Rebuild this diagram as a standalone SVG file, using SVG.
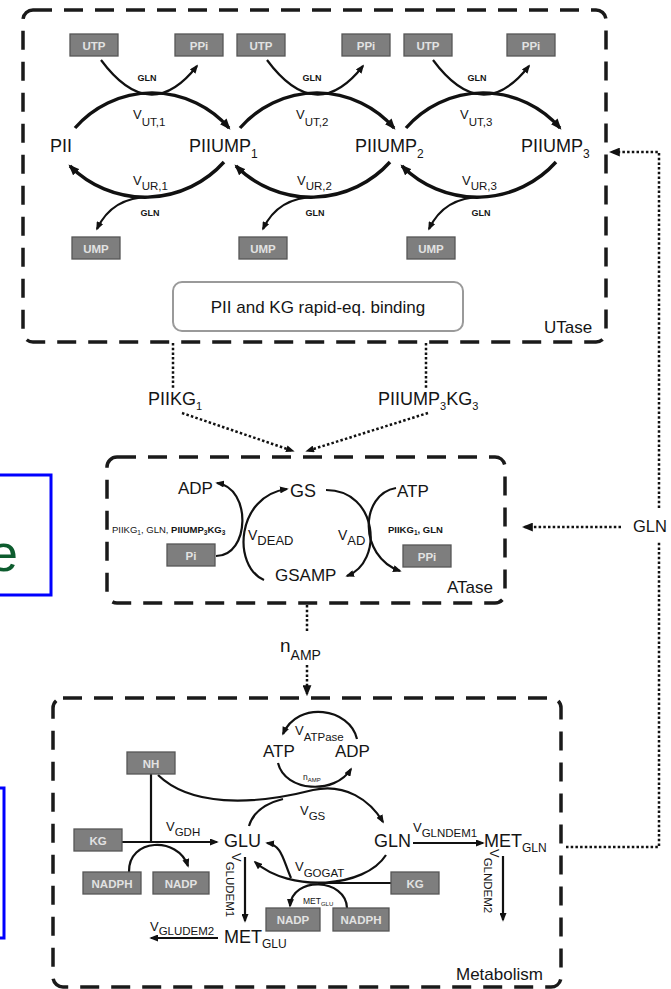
<svg xmlns="http://www.w3.org/2000/svg" width="671" height="989" viewBox="0 0 671 989">
<defs>
<style>
text{font-family:"Liberation Sans",Arial,sans-serif;fill:#151515}
.box rect{fill:#7e7e7e;stroke:#565656;stroke-width:1.3}
.box text{fill:#e2e2e2;font-weight:bold;font-size:11.5px;text-anchor:middle}
.dash{fill:none;stroke:#1a1a1a;stroke-width:3.5;stroke-dasharray:19 12}
.arc{fill:none;stroke:#111;stroke-width:3.4}
.thin{fill:none;stroke:#111;stroke-width:2.2}
.dot{fill:none;stroke:#111;stroke-width:2.5;stroke-dasharray:2.5 2.2}
.sp{font-size:18px}
.v{font-size:13px}
.sub{font-size:11.5px}
.g{font-size:9px;font-weight:bold}
.cl{font-size:17px}
</style>
<marker id="a" viewBox="0 0 10 8" refX="8" refY="4" markerWidth="11" markerHeight="9" orient="auto" markerUnits="userSpaceOnUse"><path d="M0 0L10 4L0 8z" fill="#111"/></marker>
<marker id="s" viewBox="0 0 10 8" refX="8" refY="4" markerWidth="9" markerHeight="7" orient="auto" markerUnits="userSpaceOnUse"><path d="M0 0L10 4L0 8z" fill="#111"/></marker>
</defs>
<rect width="671" height="989" fill="#fff"/>
<g id="blue1"><rect x="-5" y="475" width="56" height="120" fill="none" stroke="#0000ff" stroke-width="3"/><text x="-11" y="571" style="font-size:52px;fill:#0d5c2e">e</text></g>
<g id="blue2"><rect x="-5" y="788" width="9" height="150" fill="none" stroke="#0000ff" stroke-width="3"/></g>
<g id="utase"><rect class="dash" x="23" y="10" width="583" height="332" rx="10"/><text class="cl" x="544" y="333">UTase</text></g>
<g id="atase"><rect class="dash" x="107" y="457" width="398" height="146" rx="10"/><text class="cl" x="447" y="593">ATase</text></g>
<g id="metabolism"><rect class="dash" x="53" y="698" width="508" height="289" rx="10"/><text class="cl" x="456" y="980">Metabolism</text></g>
<g id="connectors">
<path class="arc" d="M75 128A102 102 0 0 1 229 128" marker-end="url(#a)"/>
<path class="arc" d="M240 128A102 102 0 0 1 394 128" marker-end="url(#a)"/>
<path class="arc" d="M406 128A102 102 0 0 1 560 128" marker-end="url(#a)"/>
<path class="thin" d="M101 60Q150 126 197 66" marker-end="url(#s)"/>
<path class="thin" d="M267 60Q316 126 363 66" marker-end="url(#s)"/>
<path class="thin" d="M433 60Q482 126 529 66" marker-end="url(#s)"/>
<path class="arc" d="M224 162A106 106 0 0 1 70 166" marker-end="url(#a)"/>
<path class="arc" d="M390 162A106 106 0 0 1 236 166" marker-end="url(#a)"/>
<path class="arc" d="M556 162A106 106 0 0 1 402 166" marker-end="url(#a)"/>
<path class="thin" d="M150 197Q112 197 97 229" marker-end="url(#s)"/>
<path class="thin" d="M316 197Q278 197 263 229" marker-end="url(#s)"/>
<path class="thin" d="M482 197Q444 197 429 229" marker-end="url(#s)"/>
<path class="dot" d="M173 343V388"/>
<path class="dot" d="M426 343V388"/>
<path class="dot" d="M182 413L293 451" marker-end="url(#s)"/>
<path class="dot" d="M428 413L307 451" marker-end="url(#s)"/>
<path class="dot" d="M659 508V152H611" marker-end="url(#a)"/>
<path class="dot" d="M621 527H524" marker-end="url(#a)"/>
<path class="dot" d="M566 847H659V542"/>
<path class="dot" d="M307 605V632"/>
<path class="dot" d="M307 665V694" marker-end="url(#a)"/>
<path class="thin" d="M216 556C250 556 252 488 217 483" marker-end="url(#s)"/>
<path class="thin" d="M264 580C232 566 236 496 287 489" marker-end="url(#s)"/>
<path class="thin" d="M326 490C378 490 384 562 347 576" marker-end="url(#s)"/>
<path class="thin" d="M396 488C360 494 358 556 400 571" marker-end="url(#s)"/>
<path class="thin" d="M357 739C350 708 298 700 283 734" marker-end="url(#s)"/>
<path class="thin" d="M278 763C285 792 335 795 351 769" marker-end="url(#s)"/>
<path class="thin" d="M158 775C190 806 250 806 313 790C345 783 370 800 383 822" marker-end="url(#s)"/>
<path class="thin" d="M249 826Q255 806 283 799"/>
<path class="thin" d="M122 842H217" marker-end="url(#s)"/>
<path class="thin" d="M151 774V842"/>
<path class="thin" d="M129 872C128 838 178 836 188 866" marker-end="url(#s)"/>
<path class="thin" d="M413 843H483" marker-end="url(#s)"/>
<path class="thin" d="M503 856V920" marker-end="url(#s)"/>
<path class="thin" d="M245 857V921" marker-end="url(#s)"/>
<path class="thin" d="M218 938H151" marker-end="url(#s)"/>
<path class="thin" d="M386 855C365 888 290 893 255 862" marker-end="url(#s)"/>
<path class="thin" d="M391 883H318"/>
<path class="thin" d="M291 878C283 860 282 845 267 843" marker-end="url(#s)"/>
<path class="thin" d="M347 908C346 878 292 876 290 906" marker-end="url(#s)"/>
</g>
<g id="labels">
<text class="g" x="147" y="81" text-anchor="middle">GLN</text>
<text class="g" x="312" y="81" text-anchor="middle">GLN</text>
<text class="g" x="477" y="81" text-anchor="middle">GLN</text>
<text x="133" y="119"><tspan class="v">V</tspan><tspan class="sub" dy="7">UT,1</tspan></text>
<text x="296" y="119"><tspan class="v">V</tspan><tspan class="sub" dy="7">UT,2</tspan></text>
<text x="460" y="119"><tspan class="v">V</tspan><tspan class="sub" dy="7">UT,3</tspan></text>
<text x="133" y="185"><tspan class="v">V</tspan><tspan class="sub" dy="5">UR,1</tspan></text>
<text x="297" y="185"><tspan class="v">V</tspan><tspan class="sub" dy="5">UR,2</tspan></text>
<text x="462" y="185"><tspan class="v">V</tspan><tspan class="sub" dy="5">UR,3</tspan></text>
<text class="g" x="150" y="216" text-anchor="middle">GLN</text>
<text class="g" x="315" y="216" text-anchor="middle">GLN</text>
<text class="g" x="481" y="216" text-anchor="middle">GLN</text>
<text x="148" y="405" class="sp">PIIKG<tspan font-size="11" dy="5">1</tspan></text>
<text x="378" y="405" class="sp">PIIUMP<tspan font-size="11" dy="5">3</tspan><tspan dy="-5">KG</tspan><tspan font-size="11" dy="5">3</tspan></text>
<text x="248" y="540"><tspan font-size="14px">V</tspan><tspan font-size="13px" dy="5">DEAD</tspan></text>
<text x="338" y="540"><tspan font-size="14px">V</tspan><tspan font-size="13px" dy="5">AD</tspan></text>
<text x="112" y="533" font-size="9.5">PIIKG<tspan font-size="6.5" dy="2">1</tspan><tspan dy="-2">, GLN, </tspan><tspan font-weight="bold">PIIUMP<tspan font-size="6.5" dy="2">3</tspan><tspan dy="-2">KG</tspan><tspan font-size="6.5" dy="2">3</tspan></tspan></text>
<text x="388" y="533" font-size="9.5" font-weight="bold">PIIKG<tspan font-size="6.5" dy="2">1</tspan><tspan dy="-2">, GLN</tspan></text>
<text x="280" y="652"><tspan font-size="19px">n</tspan><tspan font-size="14px" dy="8">AMP</tspan></text>
<text x="295" y="735"><tspan class="v">V</tspan><tspan class="sub" dy="6">ATPase</tspan></text>
<text x="303" y="780" font-size="8.5">n<tspan font-size="6" dy="2">AMP</tspan></text>
<text x="300" y="815"><tspan class="v">V</tspan><tspan class="sub" dy="5">GS</tspan></text>
<text x="166" y="831"><tspan class="v">V</tspan><tspan class="sub" dy="5">GDH</tspan></text>
<text x="413" y="832"><tspan class="v">V</tspan><tspan class="sub" dy="5">GLNDEM1</tspan></text>
<text transform="translate(490 849) rotate(90)"><tspan class="v">V</tspan><tspan class="sub" dy="6">GLNDEM2</tspan></text>
<text transform="translate(232 853) rotate(90)"><tspan class="v">V</tspan><tspan class="sub" dy="6">GLUDEM1</tspan></text>
<text x="150" y="931"><tspan class="v">V</tspan><tspan class="sub" dy="4">GLUDEM2</tspan></text>
<text x="295" y="871"><tspan class="v">V</tspan><tspan class="sub" dy="6">GOGAT</tspan></text>
<text x="303" y="904" font-size="8.5">MET<tspan font-size="6" dy="2">GLU</tspan></text>
</g>
<g id="PII"><text class="sp" x="50" y="152">PII</text></g>
<g id="PIIUMP1"><text class="sp" x="189" y="152">PIIUMP<tspan font-size="12" dy="6">1</tspan></text></g>
<g id="PIIUMP2"><text class="sp" x="355" y="152">PIIUMP<tspan font-size="12" dy="6">2</tspan></text></g>
<g id="PIIUMP3"><text class="sp" x="521" y="152">PIIUMP<tspan font-size="12" dy="6">3</tspan></text></g>
<g id="UTP1" class="box"><rect x="70" y="34" width="48" height="22"/><text x="94" y="49.5">UTP</text></g>
<g id="PPi1" class="box"><rect x="175" y="34" width="48" height="22"/><text x="199" y="49.5">PPi</text></g>
<g id="UTP2" class="box"><rect x="237" y="34" width="48" height="22"/><text x="261" y="49.5">UTP</text></g>
<g id="PPi2" class="box"><rect x="342" y="34" width="48" height="22"/><text x="366" y="49.5">PPi</text></g>
<g id="UTP3" class="box"><rect x="404" y="34" width="48" height="22"/><text x="428" y="49.5">UTP</text></g>
<g id="PPi3" class="box"><rect x="507" y="34" width="48" height="22"/><text x="531" y="49.5">PPi</text></g>
<g id="UMP1" class="box"><rect x="72" y="237" width="48" height="22"/><text x="96" y="252.5">UMP</text></g>
<g id="UMP2" class="box"><rect x="239" y="237" width="48" height="22"/><text x="263" y="252.5">UMP</text></g>
<g id="UMP3" class="box"><rect x="407" y="237" width="48" height="22"/><text x="431" y="252.5">UMP</text></g>
<g id="rapid"><rect x="173" y="282" width="290" height="49" rx="9" fill="#fff" stroke="#9a9a9a" stroke-width="2"/><text x="318" y="313" text-anchor="middle" font-size="17">PII and KG rapid-eq. binding</text></g>
<g id="ADP1"><text class="cl" x="178" y="494">ADP</text></g>
<g id="GS"><text class="sp" x="290" y="497">GS</text></g>
<g id="ATP1"><text class="cl" x="397" y="497">ATP</text></g>
<g id="GSAMP"><text class="cl" x="275" y="581">GSAMP</text></g>
<g id="Pi" class="box"><rect x="167" y="544" width="48" height="22"/><text x="191" y="559.5">Pi</text></g>
<g id="PPi4" class="box"><rect x="403" y="545" width="48" height="22"/><text x="427" y="560.5">PPi</text></g>
<g id="GLNext"><text x="633" y="532" font-size="16.5">GLN</text></g>
<g id="ATP2"><text class="cl" x="263" y="757">ATP</text></g>
<g id="ADP2"><text class="cl" x="335" y="757">ADP</text></g>
<g id="GLU"><text class="sp" x="224" y="847">GLU</text></g>
<g id="GLN"><text class="sp" x="374" y="847">GLN</text></g>
<g id="METGLN"><text class="sp" x="484" y="847">MET<tspan font-size="12" dy="5">GLN</tspan></text></g>
<g id="METGLU"><text class="sp" x="224" y="943">MET<tspan font-size="12" dy="5">GLU</tspan></text></g>
<g id="NH" class="box"><rect x="127" y="752" width="48" height="22"/><text x="151" y="767.5">NH</text></g>
<g id="KG1" class="box"><rect x="74" y="829" width="48" height="22"/><text x="98" y="844.5">KG</text></g>
<g id="NADPH1" class="box"><rect x="83" y="872" width="58" height="22"/><text x="112" y="887.5">NADPH</text></g>
<g id="NADP1" class="box"><rect x="153" y="872" width="56" height="22"/><text x="181" y="887.5">NADP</text></g>
<g id="KG2" class="box"><rect x="391" y="872" width="48" height="22"/><text x="415" y="887.5">KG</text></g>
<g id="NADP2" class="box"><rect x="266" y="908" width="54" height="23"/><text x="293" y="924">NADP</text></g>
<g id="NADPH2" class="box"><rect x="333" y="908" width="56" height="23"/><text x="361" y="924">NADPH</text></g>
</svg>
